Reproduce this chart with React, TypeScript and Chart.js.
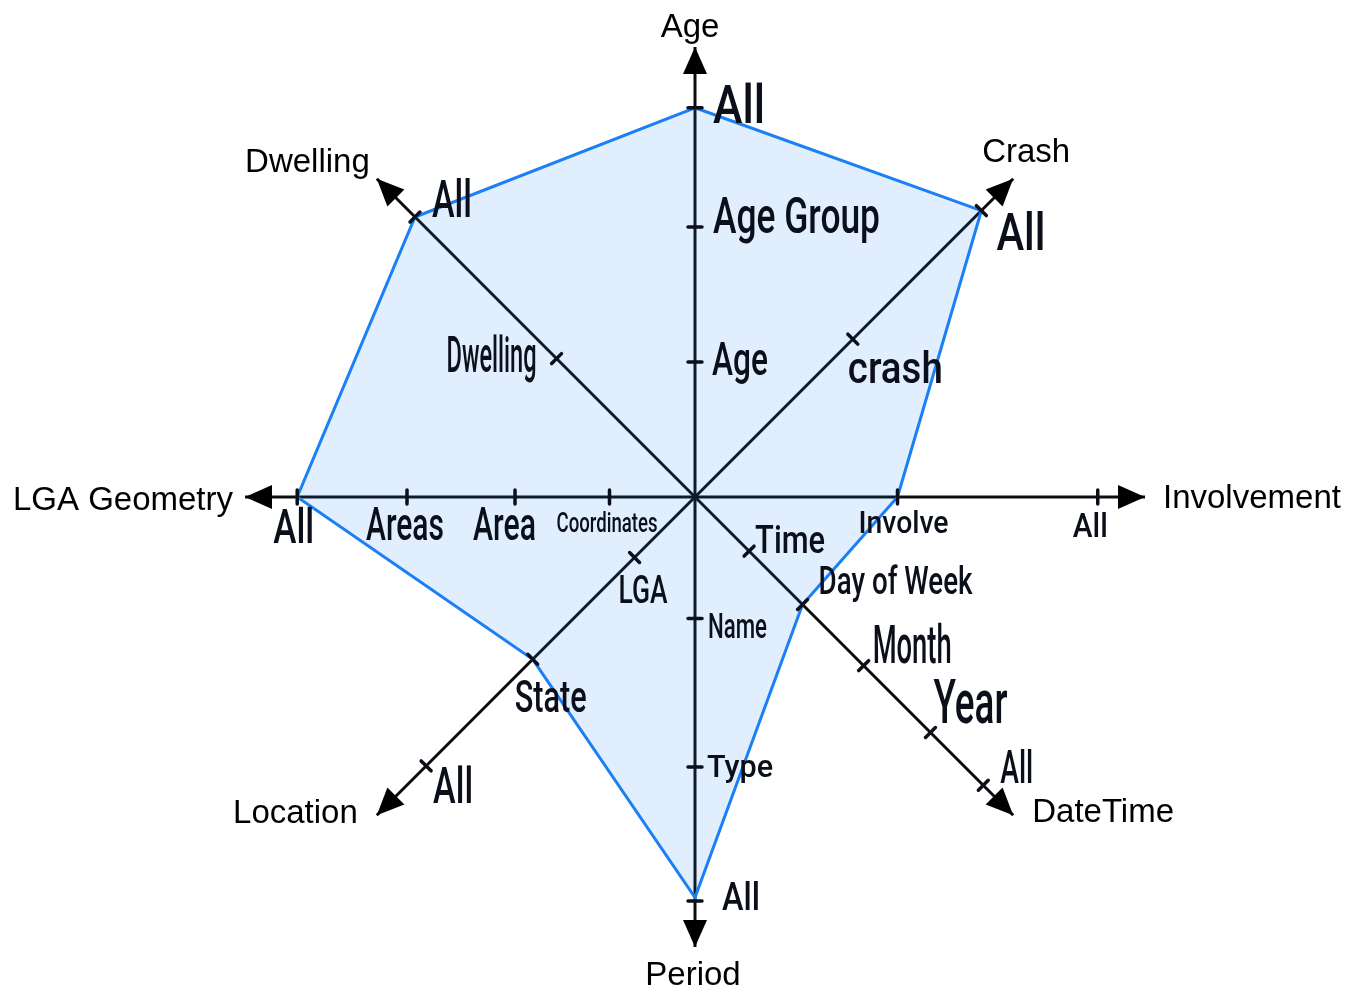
import React, { useEffect, useRef } from 'react';
import { Chart, registerables } from 'chart.js';

Chart.register(...registerables);

// ---- data ----
const AXES = ['Age', 'Crash', 'Involvement', 'DateTime', 'Period', 'Location', 'LGA Geometry', 'Dwelling'];
const SELECTED_LEVEL = [86.5, 90, 45, 33.8, 89, 51, 88.4, 88];

const AGE_TICKS = ['Age', 'Age Group', 'All'];
const AGE_VALUES = [30, 60, 86.5];
const CRASH_TICKS = ['crash', 'All'];
const CRASH_VALUES = [49.6, 90];
const INVOLVEMENT_TICKS = ['Involve', 'All'];
const INVOLVEMENT_VALUES = [45, 89.5];
const DATETIME_TICKS = ['Time', 'Day of Week', 'Month', 'Year', 'All'];
const DATETIME_VALUES = [17, 33.8, 53, 74, 90.6];
const PERIOD_TICKS = ['Name', 'Type', 'All'];
const PERIOD_VALUES = [27, 60, 89.8];
const LOCATION_TICKS = ['LGA', 'State', 'All'];
const LOCATION_VALUES = [19, 51, 84.5];
const GEOMETRY_TICKS = ['Coordinates', 'Area', 'Areas', 'All'];
const GEOMETRY_VALUES = [19, 40, 64, 88.4];
const DWELLING_TICKS = ['Dwelling', 'All'];
const DWELLING_VALUES = [43.5, 88];

const TICK_GROUPS: [string[], number[]][] = [
  [AGE_TICKS, AGE_VALUES],
  [CRASH_TICKS, CRASH_VALUES],
  [INVOLVEMENT_TICKS, INVOLVEMENT_VALUES],
  [DATETIME_TICKS, DATETIME_VALUES],
  [PERIOD_TICKS, PERIOD_VALUES],
  [LOCATION_TICKS, LOCATION_VALUES],
  [GEOMETRY_TICKS, GEOMETRY_VALUES],
  [DWELLING_TICKS, DWELLING_VALUES],
];

// ---- styles: [dx, dy (baseline), width, capHeight] for each handwritten tick label ----
const LABEL_STYLE: number[][][] = [
  [[17, 13, 56, 33], [18, 6, 167, 36], [18, 15, 52, 38]],
  [[-5, 44, 95, 32], [15, 39, 49, 37]],
  [[-39, 36, 90, 22], [-25, 40, 35, 24]],
  [[6, 2, 70, 28], [16, -11, 154, 28], [9, -3, 79, 38], [3, -9, 74, 43], [17, -2, 33, 33]],
  [[13, 19, 59, 25], [12, 10, 66, 22], [27, 9, 38, 28]],
  [[-16, 46, 49, 28], [-18, 53, 72, 32], [7, 37, 40, 35]],
  [[-53, 35, 101, 20], [-42, 43, 63, 33], [-41, 43, 78, 33], [-24, 46, 41, 34]],
  [[-110, 13, 90, 35], [17, 0, 40, 37]],
];

// axis title placement relative to arrow tip: [align, dx, dy]
const TITLE_STYLE: [CanvasTextAlign, number, number][] = [
  ['center', -5, -10],
  ['left', -31, -17],
  ['left', 18, 11],
  ['left', 19, 7],
  ['center', -2, 38],
  ['right', -19, 8],
  ['right', -12, 13],
  ['right', -7, -7],
];

const INK = '#0b0f19';

const sketchPlugin = {
  id: 'sketchAxes',
  afterDatasetsDraw(chart: any) {
    const scale = chart.scales.r;
    const ctx: CanvasRenderingContext2D = chart.ctx;
    const cx = scale.xCenter;
    const cy = scale.yCenter;
    ctx.save();

    AXES.forEach((name, i) => {
      const tip = scale.getPointPositionForValue(i, 100);
      const ang = Math.atan2(tip.y - cy, tip.x - cx);
      const ux = Math.cos(ang);
      const uy = Math.sin(ang);
      const px = -uy;
      const py = ux;

      // arrow head
      const len = 27;
      const hw = 12;
      const bx = tip.x - ux * len;
      const by = tip.y - uy * len;
      ctx.fillStyle = '#000';
      ctx.beginPath();
      ctx.moveTo(tip.x, tip.y);
      ctx.lineTo(bx + px * hw, by + py * hw);
      ctx.lineTo(bx - px * hw, by - py * hw);
      ctx.closePath();
      ctx.fill();

      // title
      const [align, tdx, tdy] = TITLE_STYLE[i];
      ctx.font = '33px "Liberation Sans", Arial, sans-serif';
      ctx.textAlign = align;
      ctx.textBaseline = 'alphabetic';
      ctx.fillStyle = '#000';
      ctx.fillText(name, tip.x + tdx, tip.y + tdy);

      // ticks + handwritten labels
      const [texts, values] = TICK_GROUPS[i];
      texts.forEach((t, j) => {
        const p = scale.getPointPositionForValue(i, values[j]);
        const tl = 7;
        ctx.strokeStyle = INK;
        ctx.lineWidth = 3.5;
        ctx.lineCap = 'round';
        ctx.beginPath();
        ctx.moveTo(p.x + px * tl, p.y + py * tl);
        ctx.lineTo(p.x - px * tl, p.y - py * tl);
        ctx.stroke();

        const [dx, dy, w, cap] = LABEL_STYLE[i][j];
        const size = cap / 0.71;
        ctx.font = `500 ${size.toFixed(1)}px Roboto, "Noto Sans", sans-serif`;
        ctx.textAlign = 'left';
        ctx.textBaseline = 'alphabetic';
        const mw = ctx.measureText(t).width || 1;
        ctx.save();
        ctx.translate(p.x + dx, p.y + dy);
        ctx.scale(w / mw, 1);
        ctx.fillStyle = INK;
        ctx.fillText(t, 0, 0);
        ctx.restore();
      });
    });

    ctx.restore();
  },
};

export default function App() {
  const ref = useRef<HTMLCanvasElement | null>(null);

  useEffect(() => {
    if (!ref.current) return;
    const chart = new Chart(ref.current, {
      type: 'radar',
      data: {
        labels: AXES,
        datasets: [
          {
            data: SELECTED_LEVEL,
            borderColor: '#1b7ff5',
            backgroundColor: 'rgba(27,127,245,0.13)',
            borderWidth: 3,
            fill: true,
            pointRadius: 0,
            pointHoverRadius: 0,
            tension: 0,
          },
        ],
      },
      options: {
        responsive: false,
        animation: false,
        layout: { padding: { left: 245, right: 219, top: 47, bottom: 53 } },
        plugins: { legend: { display: false }, tooltip: { enabled: false } },
        scales: {
          r: {
            min: 0,
            max: 100,
            beginAtZero: true,
            ticks: { display: false },
            grid: { display: false },
            angleLines: { display: true, color: '#0d0d0d', lineWidth: 3 },
            pointLabels: { display: false },
          },
        },
      },
      plugins: [sketchPlugin],
    });
    return () => chart.destroy();
  }, []);

  return (
    <div style={{ position: 'fixed', left: 0, top: 0, width: 1364, height: 1000, background: '#fff' }}>
      <canvas ref={ref} width={1364} height={1000} style={{ display: 'block' }} />
    </div>
  );
}
